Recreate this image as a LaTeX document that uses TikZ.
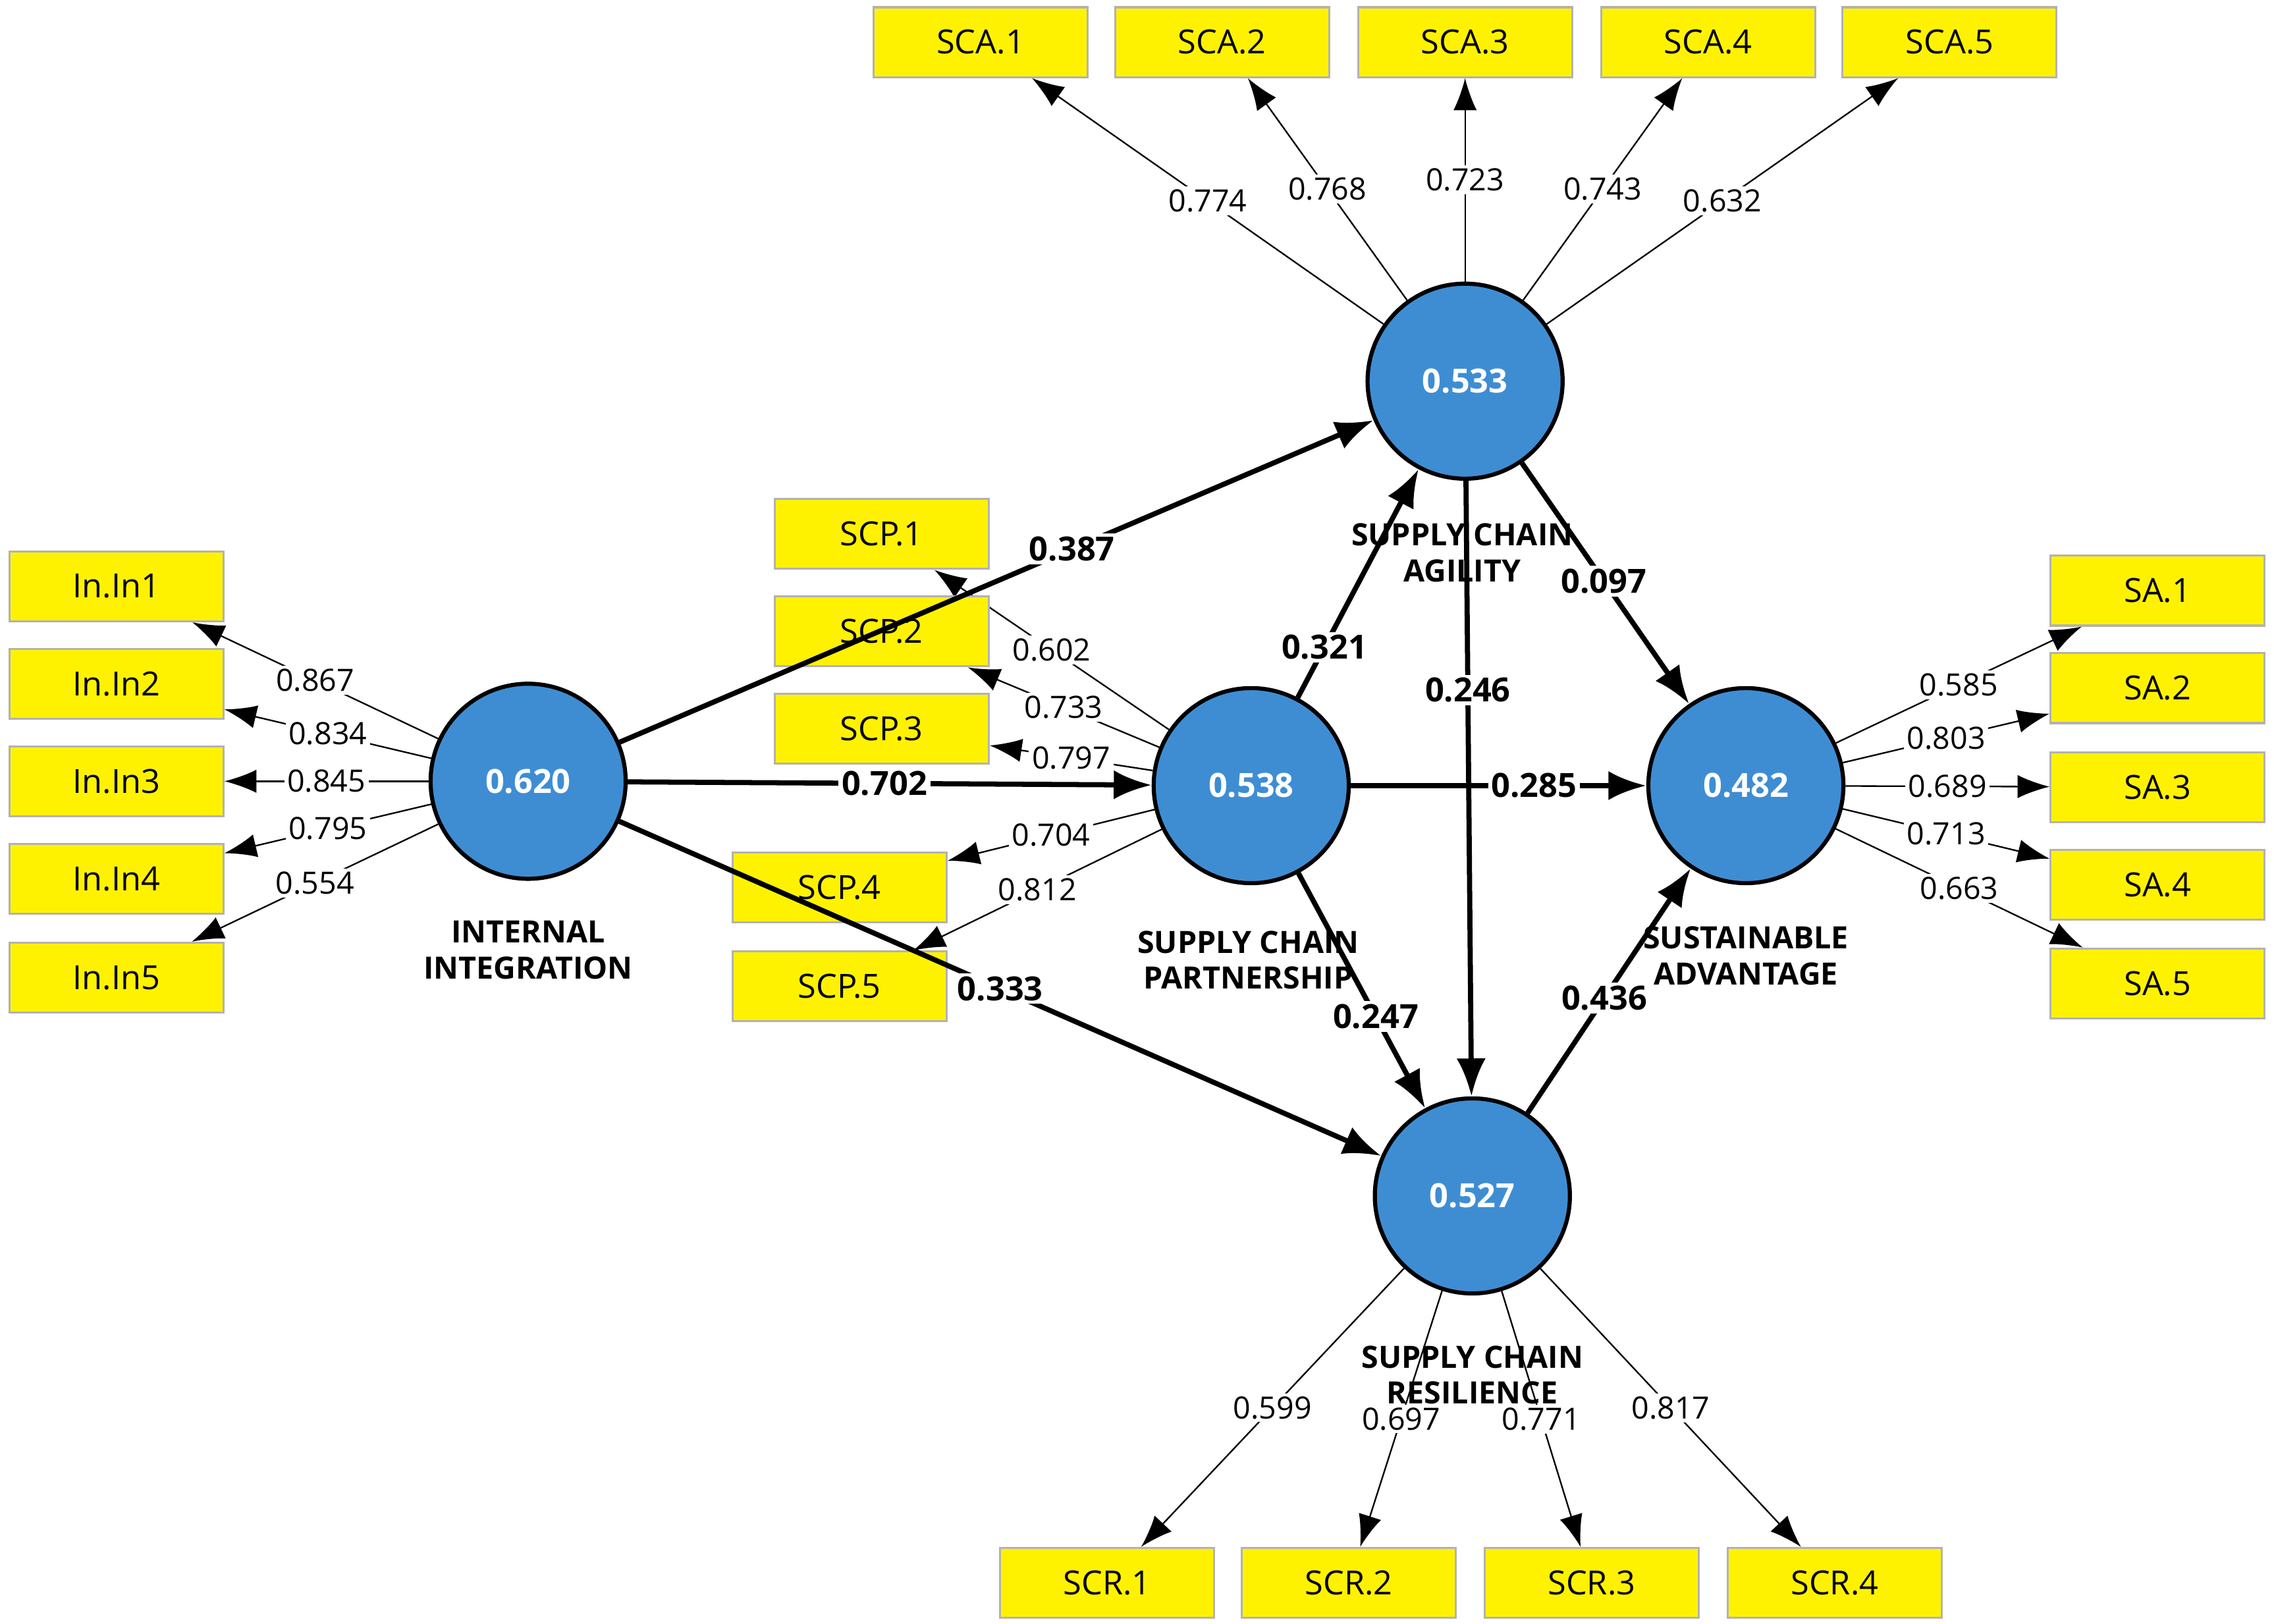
\documentclass[tikz,border=0pt]{standalone}
\usepackage{fontspec}
\setmainfont{Open Sans}
\usetikzlibrary{arrows.meta}
\begin{document}
\begin{tikzpicture}[x=0.01cm,y=-0.01cm,
  ind/.style={draw=gray!60,fill=yellow,minimum width=1.47cm,minimum height=0.48cm,inner sep=0pt,font=\fontsize{6.5}{7}\selectfont},
  lv/.style={circle,draw,thick,fill=cyan!60!blue!80,minimum size=1.34cm,inner sep=0pt,text=white,font=\bfseries\fontsize{6.5}{7}\selectfont},
  lvname/.style={align=center,font=\bfseries\fontsize{6}{7}\selectfont},
  load/.style={-{Latex[length=2.2mm,width=1.6mm]},line width=0.3pt},
  path/.style={-{Latex[length=2.6mm,width=2mm]},line width=1pt},
  lw/.style={fill=white,inner sep=0.6pt,font=\fontsize{6}{7}\selectfont},
  pw/.style={fill=white,inner sep=0.6pt,font=\bfseries\fontsize{6.5}{7}\selectfont}]
\useasboundingbox (0,0) rectangle (1563,1116);
% latent variables
\node[lv] (II) at (363,537) {0.620};
\node[lv] (SCP) at (860,540) {0.538};
\node[lv] (SCA) at (1007,262) {0.533};
\node[lv] (SA) at (1200,540) {0.482};
\node[lv] (SCR) at (1012,822) {0.527};
\node[lvname] at (363,653) {INTERNAL\\INTEGRATION};
\node[lvname] at (858,660) {SUPPLY CHAIN\\PARTNERSHIP};
\node[lvname] at (1005,380) {SUPPLY CHAIN\\AGILITY};
\node[lvname] at (1200,657) {SUSTAINABLE\\ADVANTAGE};
\node[lvname] at (1012,945) {SUPPLY CHAIN\\RESILIENCE};
% indicators
\foreach \i/\y/\v in {1/403/0.867,2/470/0.834,3/537/0.845,4/604/0.795,5/672/0.554}{
  \node[ind] (in\i) at (80,\y) {In.In\i};
  \draw[load] (II) -- (in\i) node[lw,pos=0.5] {\v};
}
\foreach \i/\x/\y/\v in {1/606/367/0.602,2/606/434/0.733,3/606/501/0.797,4/577/610/0.704,5/577/678/0.812}{
  \node[ind] (scp\i) at (\x,\y) {SCP.\i};
  \draw[load] (SCP) -- (scp\i) node[lw,pos=0.5] {\v};
}
\foreach \i/\x/\v in {1/674/0.774,2/840/0.768,3/1007/0.723,4/1174/0.743,5/1340/0.632}{
  \node[ind] (sca\i) at (\x,29) {SCA.\i};
  \draw[load] (SCA) -- (sca\i) node[lw,pos=0.5] {\v};
}
\foreach \i/\y/\v in {1/406/0.585,2/473/0.803,3/541/0.689,4/608/0.713,5/676/0.663}{
  \node[ind] (sa\i) at (1483,\y) {SA.\i};
  \draw[load] (SA) -- (sa\i) node[lw,pos=0.5] {\v};
}
\foreach \i/\x/\v in {1/761/0.599,2/927/0.697,3/1094/0.771,4/1261/0.817}{
  \node[ind] (scr\i) at (\x,1088) {SCR.\i};
  \draw[load] (SCR) -- (scr\i) node[lw,pos=0.5] {\v};
}
% structural paths
\draw[path] (II) -- (SCA) node[pw,pos=0.6] {0.387};
\draw[path] (II) -- (SCP) node[pw,pos=0.49] {0.702};
\draw[path] (II) -- (SCR) node[pw,pos=0.5] {0.333};
\draw[path] (SCP) -- (SCA) node[pw,pos=0.22] {0.321};
\draw[path] (SCP) -- (SA) node[pw,pos=0.62] {0.285};
\draw[path] (SCP) -- (SCR) node[pw,pos=0.61] {0.247};
\draw[path] (SCA) -- (SA) node[pw,pos=0.49] {0.097};
\draw[path] (SCA) -- (SCR) node[pw,pos=0.34] {0.246};
\draw[path] (SCR) -- (SA) node[pw,pos=0.47] {0.436};
\end{tikzpicture}
\end{document}
